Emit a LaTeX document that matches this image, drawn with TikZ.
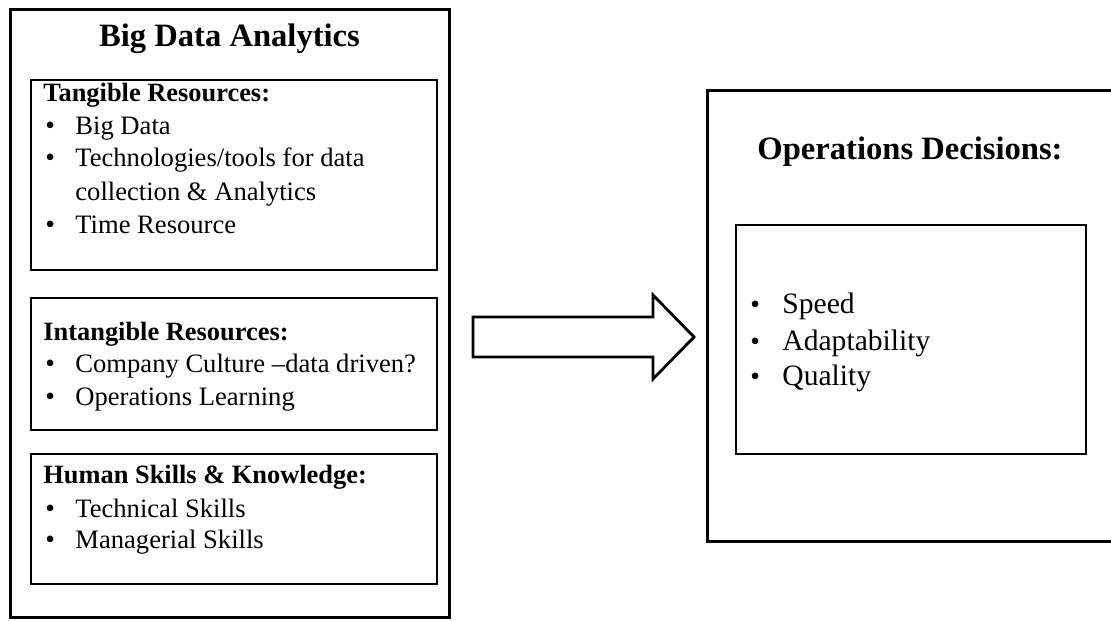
\documentclass[tikz,border=0pt]{standalone}
\usepackage{fontspec}
\setmainfont{Liberation Serif}
\usetikzlibrary{positioning,fit}
\tikzset{
  panel/.style   = {draw, line width=1.5pt, inner sep=0pt},
  group/.style   = {draw, line width=0.8pt, inner sep=0pt},
  title/.style   = {font=\fontsize{16.3}{19}\selectfont\bfseries, anchor=base, inner sep=0pt},
  grouphd/.style = {font=\fontsize{13.2}{16}\selectfont\bfseries, anchor=base west, inner sep=0pt},
  entry/.style   = {font=\fontsize{13.3}{16}\selectfont, anchor=base west, inner sep=0pt},
  bigentry/.style= {font=\fontsize{14.8}{18}\selectfont, anchor=base west, inner sep=0pt},
  dot/.style     = {font=\fontsize{13.8}{16}\selectfont, anchor=base west, inner sep=0pt},
  blockarrow/.style = {draw, line width=1.4pt, line join=miter, fill=white},
}
\begin{document}
\begin{tikzpicture}[x=0.5pt,y=-0.5pt]
  \useasboundingbox (0,0) rectangle (1111,620);
  % left panel and its three groups
  \node[panel, fit={(10,10) (449,617)}] (bda) {};
  \node[title] (bdat) at (229.5,47) {Big Data Analytics};
  \node[group, fit={(31,80) (437,270)}] (tang) {};
  \node[group, fit={(31,298) (437,430)}] (intang) {};
  \node[group, fit={(31,454) (437,584)}] (human) {};
  % tangible
  \node[grouphd] (tangh) at (43,102) {Tangible Resources:};
  \node[dot] (tb1) at (45,135) {•};  \node[entry] (t1) at (75,135) {Big Data};
  \node[dot] (tb2) at (45,167) {•};  \node[entry] (t2) at (75,167) {Technologies/tools for data};
  \node[entry] (t2b) at (75,200) {collection \& Analytics};
  \node[dot] (tb3) at (45,233) {•};  \node[entry] (t3) at (75,233) {Time Resource};
  % intangible
  \node[grouphd] (intangh) at (43,340) {Intangible Resources:};
  \node[dot] (ib1) at (45,372) {•};  \node[entry] (i1) at (75,372) {Company Culture –data driven?};
  \node[dot] (ib2) at (45,405) {•};  \node[entry] (i2) at (75,405) {Operations Learning};
  % human skills
  \node[grouphd] (humanh) at (43,483) {Human Skills \& Knowledge:};
  \node[dot] (hb1) at (45,517) {•};  \node[entry] (h1) at (75,517) {Technical Skills};
  \node[dot] (hb2) at (45,548) {•};  \node[entry] (h2) at (75,548) {Managerial Skills};
  % right panel, runs past the right margin
  \node[panel, fit={(707,91) (1125,541)}] (opd) {};
  \node[title] (opdt) at (910,160) {Operations Decisions:};
  \node[group, fit={(736,225) (1086,454)}] (crit) {};
  \node[dot] (cb1) at (750,313) {•};  \node[bigentry] (c1) at (782,313) {Speed};
  \node[dot] (cb2) at (750,350) {•};  \node[bigentry] (c2) at (782,350) {Adaptability};
  \node[dot] (cb3) at (750,385) {•};  \node[bigentry] (c3) at (782,385) {Quality};
  % block arrow between the panels
  \coordinate (tail) at (473,337);
  \coordinate (tip) at (694,337);
  \draw[blockarrow] (tail) ++(0,-20) -- ++(180,0) -- ++(0,-22) -- (tip)
    -- ++(-41,42) -- ++(0,-22) -- ++(-180,0) -- cycle;
\end{tikzpicture}
\end{document}
